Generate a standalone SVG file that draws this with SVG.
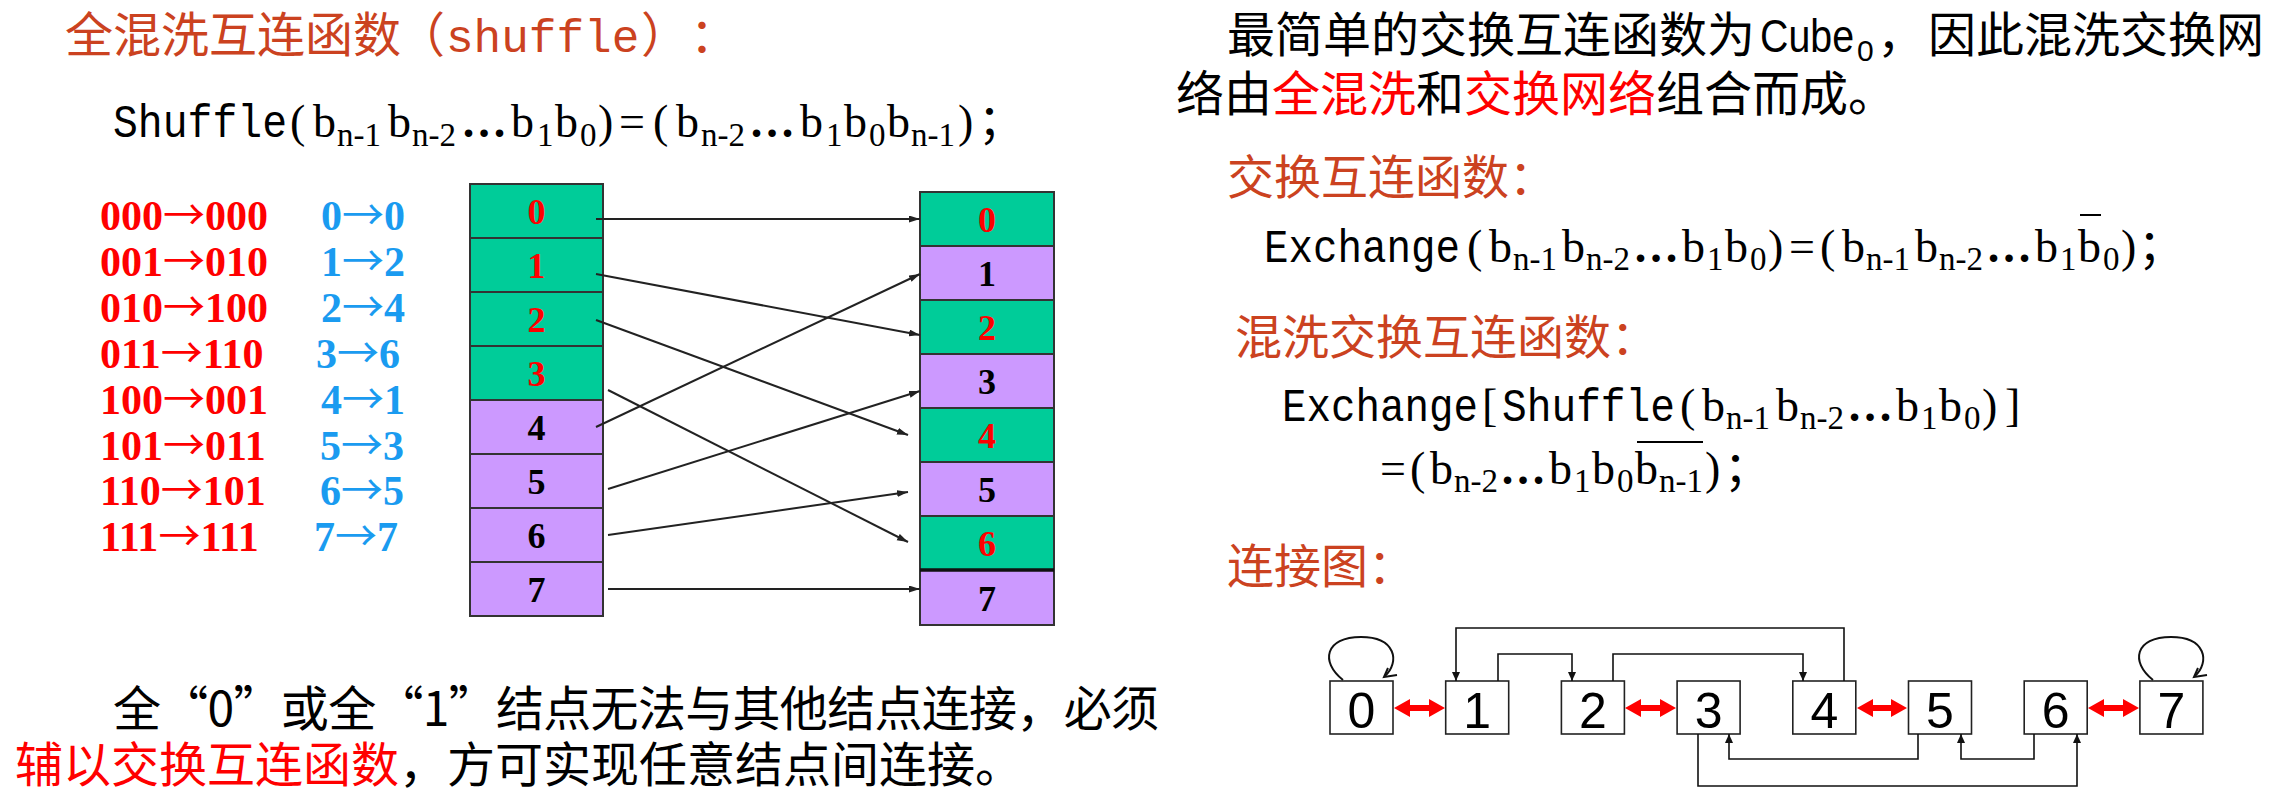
<svg xmlns="http://www.w3.org/2000/svg" width="2280" height="802" viewBox="0 0 2280 802">
<defs>
<style>
.cjk{font-family:"Noto Sans CJK SC","Noto Sans CJK JP",sans-serif}
.hd{fill:#CB4220;font-size:48px}
.tx{fill:#000;font-size:48px}
.red{fill:#FF0000}
.w{font-family:"Liberation Mono",monospace;font-size:46px}
.f{font-family:"Liberation Serif",serif;font-size:46px;fill:#000}
.s{font-size:33px}
.d{font-weight:bold}
.map{font-family:"Liberation Serif",serif;font-weight:bold;font-size:42px}
.ar{font-family:"Noto Sans CJK SC",sans-serif;font-weight:normal}
.mr{fill:#FF0000}
.mb{fill:#1A9BF0}
.cg{fill:#00CC99;stroke:#333;stroke-width:2}
.cp{fill:#CC99FF;stroke:#333;stroke-width:2}
.cl{font-family:"Liberation Serif",serif;font-weight:bold;font-size:36px;text-anchor:middle}
.lr{fill:#FF0000}
.lk{fill:#000}
.sh{stroke:#222;stroke-width:2;fill:none;marker-end:url(#sa)}
.gb{fill:#fff;stroke:#222;stroke-width:1.6}
.gl{font-family:"Liberation Sans",Arial,sans-serif;font-size:50px;text-anchor:middle;fill:#000}
.gc{stroke:#111;stroke-width:1.6;fill:none;marker-end:url(#ga)}
.lp{stroke:#111;stroke-width:2;fill:none}
.ex{fill:#FF0000}
.ov{stroke:#000;stroke-width:2}
</style>
<marker id="sa" markerUnits="userSpaceOnUse" markerWidth="12" markerHeight="8" refX="11" refY="3.5" orient="auto"><path d="M0,0 L11,3.5 L0,7 z" fill="#222"/></marker>
<marker id="ga" markerUnits="userSpaceOnUse" markerWidth="10" markerHeight="9" refX="9" refY="4" orient="auto"><path d="M0,0 L9,4 L0,8 z" fill="#111"/></marker>
</defs>
<rect width="2280" height="802" fill="#fff"/>

<g id="title-shuffle">
<text class="cjk hd" y="52"><tspan x="65">全混洗互连函数</tspan><tspan x="397">（</tspan><tspan x="446" class="w">shuffle</tspan><tspan x="641">）</tspan><tspan x="690">：</tspan></text>
</g>

<g id="formula-shuffle">
<text class="f" y="137"><tspan class="w" x="113" textLength="174" lengthAdjust="spacingAndGlyphs">Shuffle</tspan><tspan x="290">(</tspan><tspan x="313">b</tspan><tspan class="s" x="337" y="146">n-1</tspan><tspan x="388" y="137">b</tspan><tspan class="s" x="412" y="146">n-2</tspan><tspan class="d" x="461" y="137">…</tspan><tspan x="511">b</tspan><tspan class="s" x="537" y="146">1</tspan><tspan x="555" y="137">b</tspan><tspan class="s" x="580" y="146">0</tspan><tspan x="598" y="137">)</tspan><tspan x="619">=</tspan><tspan x="653">(</tspan><tspan x="676">b</tspan><tspan class="s" x="701" y="146">n-2</tspan><tspan class="d" x="749" y="137">…</tspan><tspan x="800">b</tspan><tspan class="s" x="826" y="146">1</tspan><tspan x="844" y="137">b</tspan><tspan class="s" x="869" y="146">0</tspan><tspan x="887" y="137">b</tspan><tspan class="s" x="911" y="146">n-1</tspan><tspan x="958" y="137">)</tspan><tspan class="cjk" x="978">；</tspan></text>
</g>

<g id="mapping-list">
<text class="map mr" x="100" y="230">000<tspan class="ar">→</tspan>000</text>
<text class="map mr" x="100" y="276">001<tspan class="ar">→</tspan>010</text>
<text class="map mr" x="100" y="322">010<tspan class="ar">→</tspan>100</text>
<text class="map mr" x="100" y="368">011<tspan class="ar">→</tspan>110</text>
<text class="map mr" x="100" y="414">100<tspan class="ar">→</tspan>001</text>
<text class="map mr" x="100" y="460">101<tspan class="ar">→</tspan>011</text>
<text class="map mr" x="100" y="505">110<tspan class="ar">→</tspan>101</text>
<text class="map mr" x="100" y="551">111<tspan class="ar">→</tspan>111</text>
<text class="map mb" x="321" y="230">0<tspan class="ar">→</tspan>0</text>
<text class="map mb" x="321" y="276">1<tspan class="ar">→</tspan>2</text>
<text class="map mb" x="321" y="322">2<tspan class="ar">→</tspan>4</text>
<text class="map mb" x="316" y="368">3<tspan class="ar">→</tspan>6</text>
<text class="map mb" x="321" y="414">4<tspan class="ar">→</tspan>1</text>
<text class="map mb" x="320" y="460">5<tspan class="ar">→</tspan>3</text>
<text class="map mb" x="320" y="505">6<tspan class="ar">→</tspan>5</text>
<text class="map mb" x="314" y="551">7<tspan class="ar">→</tspan>7</text>
</g>

<g id="left-stack">
<g id="L0"><rect class="cg" x="470" y="184" width="133" height="54"/><text class="cl lr" x="536.5" y="224">0</text></g>
<g id="L1"><rect class="cg" x="470" y="238" width="133" height="54"/><text class="cl lr" x="536.5" y="278">1</text></g>
<g id="L2"><rect class="cg" x="470" y="292" width="133" height="54"/><text class="cl lr" x="536.5" y="332">2</text></g>
<g id="L3"><rect class="cg" x="470" y="346" width="133" height="54"/><text class="cl lr" x="536.5" y="386">3</text></g>
<g id="L4"><rect class="cp" x="470" y="400" width="133" height="54"/><text class="cl lk" x="536.5" y="440">4</text></g>
<g id="L5"><rect class="cp" x="470" y="454" width="133" height="54"/><text class="cl lk" x="536.5" y="494">5</text></g>
<g id="L6"><rect class="cp" x="470" y="508" width="133" height="54"/><text class="cl lk" x="536.5" y="548">6</text></g>
<g id="L7"><rect class="cp" x="470" y="562" width="133" height="54"/><text class="cl lk" x="536.5" y="602">7</text></g>
</g>

<g id="right-stack">
<g id="R0"><rect class="cg" x="920" y="192" width="134" height="54"/><text class="cl lr" x="987" y="232">0</text></g>
<g id="R1"><rect class="cp" x="920" y="246" width="134" height="54"/><text class="cl lk" x="987" y="286">1</text></g>
<g id="R2"><rect class="cg" x="920" y="300" width="134" height="54"/><text class="cl lr" x="987" y="340">2</text></g>
<g id="R3"><rect class="cp" x="920" y="354" width="134" height="54"/><text class="cl lk" x="987" y="394">3</text></g>
<g id="R4"><rect class="cg" x="920" y="408" width="134" height="54"/><text class="cl lr" x="987" y="448">4</text></g>
<g id="R5"><rect class="cp" x="920" y="462" width="134" height="54"/><text class="cl lk" x="987" y="502">5</text></g>
<g id="R6"><rect class="cg" x="920" y="516" width="134" height="54"/><text class="cl lr" x="987" y="556">6</text></g>
<g id="R7"><rect class="cp" x="920" y="570" width="134" height="55"/><text class="cl lk" x="987" y="611">7</text></g>
<line x1="920" y1="570" x2="1054" y2="570" stroke="#111" stroke-width="3.5"/>
</g>

<g id="shuffle-connectors">
<line class="sh" x1="596" y1="219" x2="920" y2="219"/>
<line class="sh" x1="596" y1="274" x2="920" y2="335"/>
<line class="sh" x1="596" y1="320" x2="908" y2="435"/>
<line class="sh" x1="608" y1="390" x2="908" y2="542"/>
<line class="sh" x1="596" y1="427" x2="920" y2="274"/>
<line class="sh" x1="608" y1="489" x2="920" y2="391"/>
<line class="sh" x1="608" y1="535" x2="908" y2="492"/>
<line class="sh" x1="608" y1="589" x2="920" y2="589"/>
</g>

<g id="note-bottom">
<text class="cjk tx" x="113" y="726" textLength="1046" lengthAdjust="spacing">全“0”或全“1”结点无法与其他结点连接，必须</text>
<text class="cjk tx" x="15" y="782"><tspan class="red">辅以交换互连函数</tspan>，方可实现任意结点间连接。</text>
</g>

<g id="intro-right">
<text class="cjk tx" y="52"><tspan x="1227">最简单的交换互连函数为</tspan><tspan x="1760" textLength="94" lengthAdjust="spacingAndGlyphs" style="font-family:'Liberation Sans',Arial,sans-serif;font-size:46px">Cube</tspan><tspan x="1857" y="61" style="font-family:'Liberation Sans',Arial,sans-serif;font-size:30px">0</tspan><tspan x="1877" y="52">，</tspan><tspan x="1928">因此混洗交换网</tspan></text>
<text class="cjk tx" x="1176" y="111">络由<tspan class="red">全混洗</tspan>和<tspan class="red">交换网络</tspan>组合而成。</text>
</g>

<g id="title-exchange">
<text class="cjk hd" x="1227" y="194" style="font-size:47px">交换互连函数：</text>
</g>

<g id="formula-exchange">
<text class="f" y="262"><tspan class="w" x="1264" textLength="196" lengthAdjust="spacingAndGlyphs">Exchange</tspan><tspan x="1467">(</tspan><tspan x="1489">b</tspan><tspan class="s" x="1513" y="270">n-1</tspan><tspan x="1562" y="262">b</tspan><tspan class="s" x="1586" y="270">n-2</tspan><tspan class="d" x="1633" y="262">…</tspan><tspan x="1682">b</tspan><tspan class="s" x="1707" y="270">1</tspan><tspan x="1725" y="262">b</tspan><tspan class="s" x="1750" y="270">0</tspan><tspan x="1768" y="262">)</tspan><tspan x="1789">=</tspan><tspan x="1820">(</tspan><tspan x="1842">b</tspan><tspan class="s" x="1866" y="270">n-1</tspan><tspan x="1915" y="262">b</tspan><tspan class="s" x="1939" y="270">n-2</tspan><tspan class="d" x="1986" y="262">…</tspan><tspan x="2035">b</tspan><tspan class="s" x="2060" y="270">1</tspan><tspan x="2078" y="262">b</tspan><tspan class="s" x="2103" y="270">0</tspan><tspan x="2121" y="262">)</tspan><tspan class="cjk" x="2138">；</tspan></text>
<line class="ov" x1="2080" y1="215" x2="2101" y2="215"/>
</g>

<g id="title-shuffle-exchange">
<text class="cjk hd" x="1235" y="354" style="font-size:47px">混洗交换互连函数：</text>
</g>

<g id="formula-shuffle-exchange">
<text class="f" y="421"><tspan class="w" x="1282" textLength="196" lengthAdjust="spacingAndGlyphs">Exchange</tspan><tspan x="1482">[</tspan><tspan class="w" x="1502" textLength="173" lengthAdjust="spacingAndGlyphs">Shuffle</tspan><tspan x="1680">(</tspan><tspan x="1702">b</tspan><tspan class="s" x="1726" y="429">n-1</tspan><tspan x="1776" y="421">b</tspan><tspan class="s" x="1800" y="429">n-2</tspan><tspan class="d" x="1847" y="421">…</tspan><tspan x="1896">b</tspan><tspan class="s" x="1921" y="429">1</tspan><tspan x="1939" y="421">b</tspan><tspan class="s" x="1964" y="429">0</tspan><tspan x="1982" y="421">)</tspan><tspan x="2005">]</tspan></text>
<text class="f" y="484"><tspan x="1380">=</tspan><tspan x="1410">(</tspan><tspan x="1430">b</tspan><tspan class="s" x="1454" y="492">n-2</tspan><tspan class="d" x="1500" y="484">…</tspan><tspan x="1549">b</tspan><tspan class="s" x="1574" y="492">1</tspan><tspan x="1592" y="484">b</tspan><tspan class="s" x="1617" y="492">0</tspan><tspan x="1635" y="484">b</tspan><tspan class="s" x="1659" y="492">n-1</tspan><tspan x="1705" y="484">)</tspan><tspan class="cjk" x="1724">；</tspan></text>
<line class="ov" x1="1637" y1="442" x2="1703" y2="442"/>
</g>

<g id="title-graph">
<text class="cjk hd" x="1227" y="583" style="font-size:47px">连接图：</text>
</g>

<g id="graph-nodes">
<g id="N0"><rect class="gb" x="1330" y="681" width="63" height="53"/><text class="gl" x="1361.5" y="728">0</text></g>
<g id="N1"><rect class="gb" x="1445.7" y="681" width="63" height="53"/><text class="gl" x="1477.2" y="728">1</text></g>
<g id="N2"><rect class="gb" x="1561.4" y="681" width="63" height="53"/><text class="gl" x="1592.9" y="728">2</text></g>
<g id="N3"><rect class="gb" x="1677.1" y="681" width="63" height="53"/><text class="gl" x="1708.6" y="728">3</text></g>
<g id="N4"><rect class="gb" x="1792.8" y="681" width="63" height="53"/><text class="gl" x="1824.3" y="728">4</text></g>
<g id="N5"><rect class="gb" x="1908.5" y="681" width="63" height="53"/><text class="gl" x="1940" y="728">5</text></g>
<g id="N6"><rect class="gb" x="2024.2" y="681" width="63" height="53"/><text class="gl" x="2055.7" y="728">6</text></g>
<g id="N7"><rect class="gb" x="2139.9" y="681" width="63" height="53"/><text class="gl" x="2171.4" y="728">7</text></g>
</g>

<g id="graph-connectors">
<path class="gc" d="M1844,681 V628 H1456 V681"/>
<path class="gc" d="M1498,681 V654 H1572 V681"/>
<path class="gc" d="M1613,681 V654 H1803 V681"/>
<path class="gc" d="M1918,734 V759 H1729 V734"/>
<path class="gc" d="M2034,734 V759 H1961 V734"/>
<path class="gc" d="M1698,734 V786 H2077 V734"/>
<path class="lp" d="M1343,680 C1320,662 1325,637 1361,637 C1396,637 1400,662 1385,676"/>
<polyline class="lp" points="1388,668 1384,677 1397,675"/>
<path class="lp" d="M2153,680 C2130,662 2135,637 2171,637 C2206,637 2210,662 2195,676"/>
<polyline class="lp" points="2198,668 2194,677 2207,675"/>
<polygon class="ex" points="1394,708 1410,699 1410,705 1429,705 1429,699 1445,708 1429,717 1429,711 1410,711 1410,717"/>
<polygon class="ex" points="1625,708 1641,699 1641,705 1660,705 1660,699 1676,708 1660,717 1660,711 1641,711 1641,717"/>
<polygon class="ex" points="1857,708 1873,699 1873,705 1891,705 1891,699 1907,708 1891,717 1891,711 1873,711 1873,717"/>
<polygon class="ex" points="2088,708 2104,699 2104,705 2123,705 2123,699 2139,708 2123,717 2123,711 2104,711 2104,717"/>
</g>
</svg>
